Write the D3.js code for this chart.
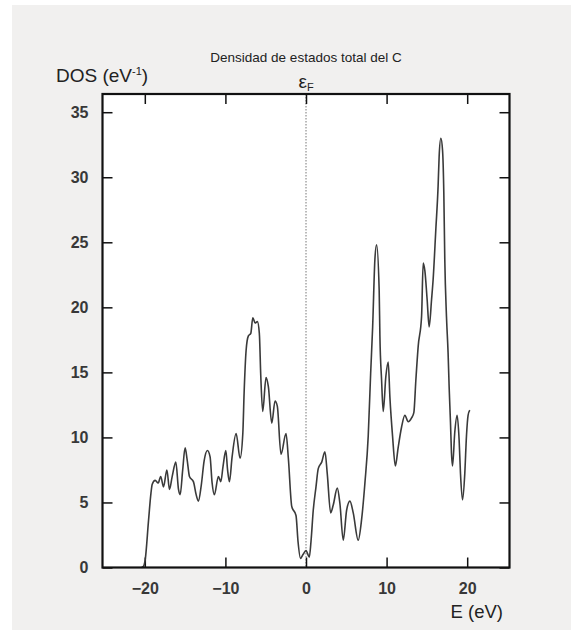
<!DOCTYPE html>
<html>
<head>
<meta charset="utf-8">
<script src="https://cdn.jsdelivr.net/npm/d3@7"></script>
<style>
  body { margin: 0; background: #fff; }
  svg { display: block; font-family: "Liberation Sans", Arial, sans-serif; }
  .axis text { font-size: 16px; font-weight: bold; fill: #383838; }
  .axis line { stroke: #111; stroke-width: 1.5; }
  .axis path { display: none; }
</style>
</head>
<body>
<svg id="chart"></svg>
<script>
// energy (eV) and total DOS (states/eV)
const energy = [
  -20.4, -20.16, -19.95, -19.54, -19.24, -19.08, -18.71, -18.34, -18.03, -17.68,
  -17.26, -16.94, -16.6, -16.15, -15.82, -15.61, -15.3, -15.0, -14.75, -14.46,
  -13.97, -13.63, -13.35, -13.0, -12.64, -12.23, -11.9, -11.65, -11.37, -10.87,
  -10.57, -10.29, -9.95, -9.73, -9.5, -9.17, -8.67, -8.18, -7.84, -7.68,
  -7.43, -7.15, -6.85, -6.6, -6.32, -6.03, -5.79, -5.61, -5.37, -4.96,
  -4.67, -4.25, -3.84, -3.56, -3.1, -2.48, -2.19, -1.77, -1.24, -0.99,
  -0.68, -0.37, 0.0, 0.41, 0.62, 0.9, 1.24, 1.52, 1.95, 2.35,
  2.64, 3.06, 3.38, 3.88, 4.21, 4.62, 5.04, 5.45, 5.86, 6.48,
  6.9, 7.31, 7.72, 8.02, 8.27, 8.55, 8.76, 9.08, 9.17, 9.38,
  9.58, 9.91, 10.2, 10.41, 10.74, 11.09, 11.43, 11.86, 12.27, 12.68,
  13.1, 13.38, 13.63, 13.92, 14.34, 14.54, 14.75, 15.03, 15.28, 15.58,
  15.77, 16.11, 16.39, 16.52, 16.73, 16.94, 17.1, 17.22, 17.43, 17.63,
  17.76, 17.93, 18.05, 18.18, 18.46, 18.75, 19.0, 19.17, 19.42, 19.7,
  19.91, 20.11, 20.32
];
const dos = [
  0.0, 0.1, 0.6, 3.6, 5.7, 6.4, 6.7, 6.5, 7.0, 6.2,
  7.5, 6.0, 7.0, 8.1, 6.0, 5.6, 7.5, 9.2, 8.3, 7.0,
  6.6, 5.6, 5.1, 6.3, 8.2, 9.0, 8.5, 6.5, 5.6, 7.0,
  6.6, 7.8, 9.0, 7.5, 6.6, 8.5, 10.3, 8.4, 10.3, 13.4,
  16.7, 17.8, 18.0, 19.2, 18.8, 18.9, 18.0, 14.7, 12.0, 14.6,
  13.9, 11.1, 12.8, 12.4, 8.7, 10.3, 8.4, 4.7, 4.0, 2.0,
  0.7, 1.0, 1.3, 0.8, 2.0, 4.4, 6.2, 7.6, 8.1, 8.9,
  7.2, 4.2, 4.8, 6.1, 4.9, 2.1, 4.4, 5.1, 4.2, 2.1,
  3.7, 6.5, 10.1, 14.9, 18.5, 23.7, 24.8, 21.3, 17.8, 14.4,
  12.0, 14.7, 15.8, 13.1, 10.1, 7.8, 9.2, 10.8, 11.7, 11.2,
  11.5, 11.9, 14.4, 17.0, 19.3, 23.4, 22.8, 20.6, 18.5, 20.6,
  22.1, 26.0, 29.3, 31.6, 33.0, 32.1, 28.8, 23.7, 19.3, 16.5,
  13.9, 11.1, 8.8, 7.8, 10.4, 11.7, 9.8, 7.2, 5.2, 7.2,
  10.1, 11.7, 12.1
];
const xTicks = [-20, -10, 0, 10, 20];
const yTicks = [0, 5, 10, 15, 20, 25, 30, 35];

const points = energy.map((e, i) => ({ x: e, y: dos[i] }));

const W = 571;
const H = 630;
const margin = { top: 94, right: 61.5, bottom: 62.5, left: 102.5 };
const width = W - margin.left - margin.right;
const height = H - margin.top - margin.bottom;

const svg = d3.select("#chart").attr("width", W).attr("height", H);

// grey page with a thin white edge
svg.append("rect")
  .attr("x", 12).attr("y", 5)
  .attr("width", W - 12).attr("height", H - 5)
  .attr("fill", "#f1f0ef");

const g = svg.append("g")
  .attr("transform", "translate(" + margin.left + "," + margin.top + ")");

const xScale = d3.scaleLinear().domain([-25.25, 25.25]).range([0, width]);
const yScale = d3.scaleLinear().domain([0, 36.4]).range([height, 0]);

g.append("rect")
  .attr("width", width).attr("height", height)
  .attr("fill", "#fff");

// Fermi level
g.append("line")
  .attr("x1", xScale(0)).attr("x2", xScale(0))
  .attr("y1", 0).attr("y2", height)
  .attr("stroke", "#777")
  .attr("stroke-width", 1)
  .attr("stroke-dasharray", "1.5,1.5");

// axes, ticks pointing inward on all four sides
g.append("g")
  .attr("class", "axis")
  .attr("transform", "translate(0," + height + ")")
  .call(d3.axisBottom(xScale).tickValues(xTicks).tickSizeInner(-10).tickSizeOuter(0).tickPadding(15));

g.append("g")
  .attr("class", "axis")
  .call(d3.axisTop(xScale).tickValues(xTicks).tickSizeInner(-10).tickSizeOuter(0).tickFormat(""));

g.append("g")
  .attr("class", "axis")
  .call(d3.axisLeft(yScale).tickValues(yTicks).tickSizeInner(-10).tickSizeOuter(0).tickPadding(14));

g.append("g")
  .attr("class", "axis")
  .attr("transform", "translate(" + width + ",0)")
  .call(d3.axisRight(yScale).tickValues(yTicks).tickSizeInner(-10).tickSizeOuter(0).tickFormat(""));

const line = d3.line()
  .x(d => xScale(d.x))
  .y(d => yScale(d.y))
  .curve(d3.curveMonotoneX);

g.append("path")
  .datum(points)
  .attr("fill", "none")
  .attr("stroke", "#3a3a3a")
  .attr("stroke-width", 1.6)
  .attr("stroke-linejoin", "round")
  .attr("d", line);

g.append("rect")
  .attr("width", width).attr("height", height)
  .attr("fill", "none")
  .attr("stroke", "#111")
  .attr("stroke-width", 2.2);

// texts
svg.append("text")
  .attr("x", 306).attr("y", 62)
  .attr("text-anchor", "middle")
  .attr("font-size", 13.5)
  .attr("fill", "#222")
  .text("Densidad de estados total del C");

const dosLabel = svg.append("text")
  .attr("x", 56).attr("y", 82)
  .attr("font-size", 19)
  .attr("fill", "#222");
dosLabel.append("tspan").text("DOS (eV");
dosLabel.append("tspan").attr("dy", -7).attr("font-size", 11).text("-1");
dosLabel.append("tspan").attr("dy", 7).text(")");

const fermi = svg.append("text")
  .attr("x", xScale(0) + margin.left).attr("y", 88)
  .attr("text-anchor", "middle")
  .attr("font-size", 19)
  .attr("fill", "#222");
fermi.append("tspan").text("ε");
fermi.append("tspan").attr("dy", 3).attr("font-size", 11).text("F");

svg.append("text")
  .attr("x", 503).attr("y", 618)
  .attr("text-anchor", "end")
  .attr("font-size", 18.5)
  .attr("fill", "#222")
  .text("E (eV)");
</script>
</body>
</html>
